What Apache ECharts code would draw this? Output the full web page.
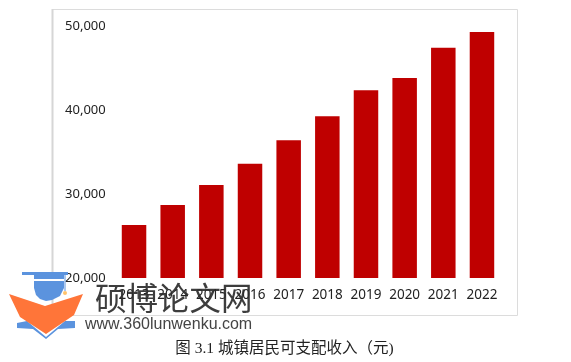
<!DOCTYPE html>
<html>
<head>
<meta charset="utf-8">
<style>
html,body{margin:0;padding:0;background:#fff;}
#chart{width:571px;height:362px;}
</style>
<script src="https://cdn.jsdelivr.net/npm/echarts@6/dist/echarts.min.js"></script>
</head>
<body>
<div id="chart"></div>
<script>
var years = ['2013','2014','2015','2016','2017','2018','2019','2020','2021','2022'];
var income = [26300,28700,31070,33600,36400,39250,42360,43800,47410,49280];
var caption = '图 3.1 城镇居民可支配收入（元)';
var siteName = '硕博论文网';
var siteUrl = 'www.360lunwenku.com';

var chart = echarts.init(document.getElementById('chart'));
var labelFont = '"Noto Sans", sans-serif';

var option = {
    animation: false,
    backgroundColor: '#fff',
    grid: { left: 114.7, right: 69.7, top: 26, bottom: 84 },
    xAxis: {
        type: 'category',
        data: years,
        axisTick: { show: false },
        axisLine: { show: false },
        axisLabel: { color: '#222', fontSize: 13.5, fontFamily: labelFont, margin: 10, interval: 0 }
    },
    yAxis: {
        type: 'value',
        min: 20000,
        max: 50000,
        interval: 10000,
        axisTick: { show: false },
        axisLine: { show: false },
        splitLine: { show: false },
        axisLabel: {
            color: '#222',
            fontSize: 13,
            fontFamily: labelFont,
            margin: 9,
            formatter: function (v) { return echarts.format.addCommas(v); }
        }
    },
    series: [{
        type: 'bar',
        data: income,
        barWidth: 24.5,
        itemStyle: { color: '#BF0000' }
    }],
    graphic: [
        // 图表外框
        { type: 'rect', z: 0, shape: { x: 52.5, y: 9.5, width: 465, height: 306 }, style: { fill: 'none', stroke: '#dcdcdc', lineWidth: 1 } },
        { type: 'line', z: 0, shape: { x1: 52.5, y1: 9, x2: 52.5, y2: 316 }, style: { stroke: '#d6d6d6', lineWidth: 2 } },
        // 图注
        { type: 'text', z: 10, x: 284.5, y: 349, style: { text: caption, fill: '#222', font: '15.5px "Liberation Serif", "Noto Sans CJK SC"', textAlign: 'center', textVerticalAlign: 'middle' } },
        // 水印 logo
        { type: 'rect', z: 20, shape: { x: 22, y: 272, width: 46, height: 3 }, style: { fill: '#5B93DE' } },
        { type: 'polygon', z: 20, shape: { points: [[34,275],[64,275],[64,288],[60,296],[52,300],[46,301],[40,299],[36,295],[34,288]] }, style: { fill: '#5B93DE' } },
        { type: 'rect', z: 21, shape: { x: 34, y: 279, width: 30, height: 2 }, style: { fill: '#fff' } },
        { type: 'line', z: 20, shape: { x1: 65, y1: 275, x2: 65, y2: 291 }, style: { stroke: '#5B93DE', lineWidth: 1 } },
        { type: 'circle', z: 20, shape: { cx: 65, cy: 293, r: 2 }, style: { fill: '#FFC36B' } },
        { type: 'polygon', z: 22, shape: { points: [[9,294],[45,306],[83,294],[74,315],[46,334],[20,317]] }, style: { fill: '#FF7539' } },
        { type: 'polygon', z: 20, shape: { points: [[17,323],[27,321],[46,337],[65,321],[75,321],[75,328],[58,329],[46,339],[33,329],[17,328]] }, style: { fill: '#5B93DE' } },
        // 水印文字
        { type: 'text', z: 23, x: 95, y: 298, style: { text: siteName, fill: 'rgba(45,45,45,0.92)', font: '31.5px "Noto Sans CJK SC"', textVerticalAlign: 'middle' } },
        { type: 'text', z: 23, x: 85, y: 325, style: { text: siteUrl, fill: '#444', font: '16px "Liberation Sans"', textVerticalAlign: 'middle' } }
    ]
};
chart.setOption(option);
</script>
</body>
</html>
